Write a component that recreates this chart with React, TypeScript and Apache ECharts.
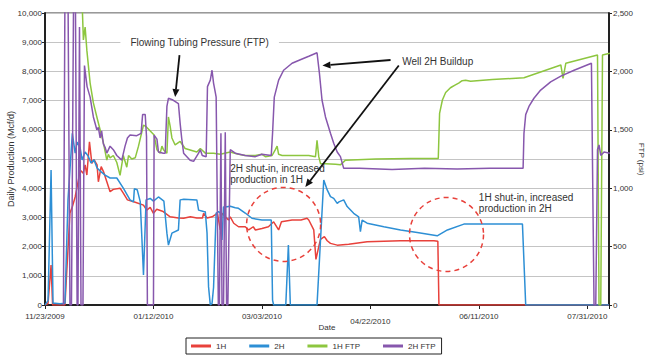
import React, { useEffect, useRef } from 'react';
import * as echarts from 'echarts';

// x values are days since 11/23/2009
const dateLabels = ['11/23/2009', '01/12/2010', '03/03/2010', '04/22/2010', '06/11/2010', '07/31/2010'];
const seriesNames = ['1H', '2H', '1H FTP', '2H FTP'];

// Daily production, Mcf/d
const prod1H: number[][] = [
  [0, 0], [1.4, 50], [2.8, 1370], [3.5, 0], [9.2, 0], [11.5, 3150], [12.6, 3360], [13.9, 3700], [15.4, 4280],
  [16.2, 4620], [17.6, 4510], [18.5, 4800], [19.3, 4450], [20.5, 5590], [21.6, 4850], [22.6, 4980], [24.0, 4800],
  [24.6, 4220], [25.9, 4740], [27.0, 4560], [28.5, 4220], [30.0, 3880], [31.5, 3960], [34.6, 4000], [36.1, 3830],
  [38.0, 3600], [41.6, 3520], [45.4, 3420], [46.9, 3250], [48.5, 3340], [50.0, 3140], [51.5, 3280], [54.5, 3200],
  [57.7, 3020], [61.5, 2980], [63.9, 2970], [67.0, 3020], [70.0, 2980], [72.6, 2980], [73.1, 3140], [74.7, 2980],
  [77.0, 3020], [79.5, 3140], [80.8, 2570], [81.6, 3140], [83.1, 3020], [84.6, 2910], [85.4, 3020], [87.0, 2800],
  [89.2, 2680], [92.3, 2680], [93.9, 2570], [96.0, 2680], [97.0, 2570], [100.0, 2620], [103.0, 2680], [105.4, 2850],
  [107.7, 2570], [109.0, 2850], [113.9, 2910], [118.0, 2910], [120.8, 2970], [121.6, 2910], [123.9, 2570],
  [124.9, 1560], [126.2, 2000], [127.0, 2250], [128.8, 2340], [130.1, 2200], [131.6, 2110], [134.7, 2050],
  [140.0, 2080], [148.5, 2170], [163.9, 2200], [179.3, 2200], [181.1, 2180], [181.6, 0], [260, 0],
];

const prod2H: number[][] = [
  [0, 0], [1.4, 150], [2.8, 4620], [3.7, 60], [4.6, 60], [6.9, 40], [9.2, 60], [10.6, 3600], [12.6, 5880],
  [13.9, 5200], [14.8, 5580], [16.2, 5380], [17.1, 4970], [18.5, 5240], [19.9, 5100], [21.2, 4860], [22.6, 4970],
  [24.0, 4690], [25.9, 4560], [27.7, 4450], [30.0, 4350], [33.1, 4350], [36.1, 4000], [39.2, 3600], [40.8, 3530],
  [41.2, 3980], [42.5, 3950], [43.9, 3540], [44.6, 2400], [45.4, 1030], [46.6, 3600], [48.5, 3650], [50.0, 3560],
  [52.3, 3700], [54.8, 3560], [56.2, 2460], [56.9, 2050], [58.5, 2460], [61.5, 2570], [62.3, 3600], [64.0, 3620],
  [70.0, 3600], [70.8, 3250], [73.1, 3200], [73.9, 3190], [74.7, 2460], [75.4, 620], [76.2, 0], [77.0, 50],
  [77.7, 600], [78.9, 3150], [80.0, 3200], [80.8, 3150], [81.6, 2230], [82.3, 3360], [83.1, 3360], [85.4, 3380],
  [87.7, 3330], [89.2, 3310], [92.3, 3150], [95.4, 2970], [100.0, 2910], [104.3, 2910], [104.9, 170], [105.4, 0],
  [111.0, 0], [112.2, 2050], [113.1, 0], [125.4, 0], [128.5, 4280], [130.1, 3940], [131.6, 3710], [133.1, 3650],
  [134.7, 3480], [135.5, 3530], [137.7, 3600], [139.3, 3370], [142.3, 3140], [144.6, 3020], [145.4, 2510],
  [146.2, 2910], [148.5, 2800], [156.2, 2680], [163.9, 2570], [171.6, 2480], [180.8, 2370], [185.5, 2570],
  [193.1, 2770], [202.4, 2770], [220.1, 2770], [221.6, 0], [260, 0],
];

// Flowing tubing pressure, psi
const ftp1H: number[][] = [
  [15.4, 2700], [16.9, 2700], [17.7, 2270], [18.5, 2380], [19.3, 2180], [20.8, 1900], [22.3, 1730], [23.9, 1610],
  [25.4, 1500], [26.9, 1390], [28.5, 1240], [29.2, 1290], [30.0, 1260], [31.5, 1280], [33.1, 1220], [34.6, 1110],
  [36.1, 1280], [37.7, 1180], [38.5, 1280], [40.0, 1250], [41.6, 1260], [43.1, 1360], [45.4, 1540], [46.4, 1530],
  [50.3, 1455], [51.6, 1330], [53.1, 1300], [53.9, 1360], [54.6, 1330], [56.2, 1300], [56.9, 1610], [57.7, 1530],
  [58.5, 1430], [60.0, 1370], [62.3, 1400], [64.6, 1340], [70.0, 1310], [71.6, 1340], [73.9, 1300], [77.7, 1300],
  [80.8, 1290], [85.4, 1310], [89.2, 1290], [92.3, 1280], [97.0, 1280], [100.0, 1290], [101.6, 1270], [104.7, 1280],
  [106.2, 1330], [107.0, 1360], [107.7, 1290], [109.3, 1280], [113.9, 1280], [121.6, 1280], [124.7, 1270],
  [125.4, 1410], [126.2, 1270], [127.0, 1210], [129.3, 1210], [133.9, 1205], [136.2, 1200], [138.5, 1240],
  [152.4, 1250], [168.5, 1255], [181.3, 1255], [181.9, 1640], [183.2, 1755], [184.7, 1820], [186.9, 1860],
  [189.2, 1885], [190.7, 1900], [192.3, 1920], [193.9, 1925], [196.2, 1915], [206.2, 1930], [220.8, 1945],
  [237.8, 2055], [238.8, 1940], [240.1, 2070], [254.7, 2140], [255.4, 0], [256.2, 0], [257.0, 2140], [260.4, 2155],
];

const ftp2H: number[][] = [
  [8.5, 0], [9.2, 2700], [10.6, 2700], [11.5, 0], [12.2, 0], [13.2, 2700], [14.0, 2700], [14.8, 0], [15.2, 0],
  [15.9, 2380], [16.6, 0], [17.5, 0], [18.2, 2050], [19.4, 1870], [20.8, 1780], [22.3, 1610], [23.9, 1500],
  [24.6, 1520], [25.4, 1430], [26.1, 1490], [26.9, 1380], [27.7, 1350], [28.5, 1300], [30.0, 1360], [31.5, 1330],
  [33.1, 1280], [35.4, 1240], [36.9, 1360], [38.0, 1430], [39.2, 1455], [42.3, 1450], [44.3, 1470], [45.0, 1630],
  [46.2, 1630], [46.8, 1440], [47.2, 0], [50.0, 0], [50.3, 1455], [51.6, 1420], [52.3, 1310], [54.5, 1300],
  [55.4, 1300], [56.2, 1700], [56.9, 1770], [59.0, 1755], [61.5, 1725], [62.3, 1555], [63.0, 1430], [63.9, 1300],
  [66.9, 1240], [68.5, 1230], [70.8, 1300], [71.6, 1330], [72.5, 1280], [74.3, 1270], [74.9, 1870], [76.2, 1925],
  [77.0, 2010], [77.7, 1900], [78.5, 1820], [78.9, 1780], [79.9, 0], [80.4, 0], [81.1, 1470], [81.6, 0], [82.3, 0],
  [83.1, 1480], [83.7, 0], [84.3, 0], [85.4, 1330], [87.7, 1300], [92.3, 1280], [97.0, 1270], [100.0, 1290],
  [104.3, 1280], [104.9, 1470], [105.7, 1780], [107.7, 1925], [110.0, 2010], [113.9, 2070], [117.7, 2100],
  [121.6, 2130], [125.4, 2160], [126.5, 1985], [127.7, 1755], [129.3, 1610], [131.6, 1470], [133.1, 1385],
  [134.7, 1310], [136.2, 1270], [137.7, 1170], [145.0, 1170], [160.0, 1160], [175.0, 1170], [190.0, 1165],
  [205.0, 1170], [220.4, 1170], [220.8, 1470], [221.6, 1630], [223.1, 1700], [225.4, 1770], [228.5, 1840],
  [233.1, 1910], [237.8, 1960], [243.9, 2010], [251.9, 2070], [253.1, 0], [253.9, 0], [254.7, 1330], [255.4, 1370],
  [256.2, 1280], [257.7, 1310], [260.4, 1300],
];

const colors = ['#e8413b', '#2d8fd5', '#8dc63f', '#8757ad'];

// Annotation anchors in (day, Mcf/d) coordinates
const noteFtpText = { text: 'Flowing Tubing Pressure (FTP)', at: [71.3, 9000] };
const noteFtpArrow = [[62, 8560], [60, 7120]];
const noteWellText = { text: 'Well 2H Buildup', at: [164.7, 8330] };
const noteWellArrows = [
  [[159.3, 8390], [127.9, 8200]],
  [[163.1, 8200], [120, 4040]],
];
const noteShut2H = { text: '2H shut-in, increased\nproduction in 1H', at: [85.4, 4470] };
const noteShut1H = { text: '1H shut-in, increased\nproduction in 2H', at: [200, 3500] };
const noteCircles = [[110, 2760], [185.1, 2415]];

const FONT = '"Liberation Sans", Arial, Helvetica, sans-serif';
const fmt = (v: number) => v.toLocaleString('en-US');

export default function App() {
  const ref = useRef<HTMLDivElement>(null);
  useEffect(() => {
    if (!ref.current) return;
    const chart = echarts.init(ref.current, undefined, { renderer: 'svg' });
    const lineSeries = (name: string, data: number[][], idx: number, yAxisIndex: number) => ({
      name,
      type: 'line',
      data,
      yAxisIndex,
      showSymbol: false,
      symbol: 'none',
      clip: true,
      lineStyle: { color: colors[idx], width: 1.5 },
      itemStyle: { color: colors[idx] },
    });
    chart.setOption({
      animation: false,
      grid: {
        left: 45, right: 41, top: 13, bottom: 56,
        containLabel: false, outerBoundsMode: 'none',
        show: true, borderColor: '#333', borderWidth: 1,
      },
      legend: {
        data: seriesNames,
        left: 186,
        top: 338,
        icon: 'rect',
        itemWidth: 20,
        itemHeight: 3,
        itemGap: 23,
        borderColor: '#222',
        borderWidth: 1,
        padding: [4, 6, 4, 5],
        textStyle: { fontSize: 8, color: '#333', fontFamily: FONT },
      },
      xAxis: {
        type: 'value',
        min: 0,
        max: 260,
        interval: 50,
        name: 'Date',
        nameLocation: 'middle',
        nameGap: 18,
        nameMoveOverlap: false,
        nameTextStyle: { fontSize: 8, color: '#333', fontFamily: FONT },
        axisLine: { lineStyle: { color: '#222', width: 2 } },
        axisTick: { length: 4, lineStyle: { color: '#222' } },
        splitLine: { show: false },
        axisLabel: {
          margin: 7,
          fontSize: 8,
          color: '#333',
          fontFamily: FONT,
          formatter: (v: number) => {
            const i = Math.round(v / 50);
            if (v % 50 !== 0 || !dateLabels[i]) return '';
            return i === 3 ? '{low|' + dateLabels[i] + '}' : dateLabels[i];
          },
          rich: { low: { fontSize: 8, color: '#333', fontFamily: FONT, padding: [5, 0, 0, 0] } },
        },
      },
      yAxis: [
        {
          type: 'value',
          min: 0,
          max: 10000,
          interval: 1000,
          name: 'Daily Production (Mcf/d)',
          nameLocation: 'middle',
          nameGap: 30,
          nameMoveOverlap: false,
          nameTextStyle: { fontSize: 9, color: '#333', fontFamily: FONT },
          axisLine: { show: true, lineStyle: { color: '#222', width: 2 } },
          axisTick: { show: true, length: 3, lineStyle: { color: '#222' } },
          axisLabel: { margin: 3, fontSize: 8, color: '#333', fontFamily: FONT, formatter: fmt },
          splitLine: { lineStyle: { color: '#c4c4c4', width: 1 } },
        },
        {
          type: 'value',
          min: 0,
          max: 2500,
          interval: 500,
          position: 'right',
          name: 'FTP (psi)',
          nameLocation: 'middle',
          nameRotate: -90,
          nameGap: 28,
          nameMoveOverlap: false,
          nameTextStyle: { fontSize: 8, color: '#333', fontFamily: FONT },
          axisLine: { show: true, lineStyle: { color: '#222', width: 2 } },
          axisTick: { show: true, length: 3, lineStyle: { color: '#222' } },
          axisLabel: { margin: 4, fontSize: 8, color: '#333', fontFamily: FONT, formatter: fmt },
          splitLine: { show: false },
        },
      ],
      series: [
        lineSeries(seriesNames[0], prod1H, 0, 0),
        lineSeries(seriesNames[1], prod2H, 1, 0),
        lineSeries(seriesNames[2], ftp1H, 2, 1),
        lineSeries(seriesNames[3], ftp2H, 3, 1),
      ],
    });

    const px = (p: number[]) => chart.convertToPixel({ xAxisIndex: 0, yAxisIndex: 0 }, p) as number[];
    const arrow = (from: number[], to: number[]) => {
      const a = px(from);
      const b = px(to);
      const dx = b[0] - a[0];
      const dy = b[1] - a[1];
      const len = Math.sqrt(dx * dx + dy * dy);
      const ux = dx / len;
      const uy = dy / len;
      const hl = 8;
      const hw = 3.5;
      const base = [b[0] - ux * hl, b[1] - uy * hl];
      return [
        { type: 'line', z: 100, shape: { x1: a[0], y1: a[1], x2: base[0], y2: base[1] }, style: { stroke: '#111', lineWidth: 1.8 } },
        {
          type: 'polygon',
          z: 100,
          shape: {
            points: [
              [b[0], b[1]],
              [base[0] - uy * hw, base[1] + ux * hw],
              [base[0] + uy * hw, base[1] - ux * hw],
            ],
          },
          style: { fill: '#111' },
        },
      ];
    };
    const ftpP = px(noteFtpText.at);
    const wellP = px(noteWellText.at);
    const s2P = px(noteShut2H.at);
    const s1P = px(noteShut1H.at);
    const textStyle = { font: '10px ' + FONT, fill: '#333', lineHeight: 11 };
    const graphic: any[] = [
      {
        type: 'text',
        z: 100,
        x: ftpP[0],
        y: ftpP[1],
        style: { ...textStyle, text: noteFtpText.text, align: 'center', verticalAlign: 'middle', backgroundColor: '#fff', padding: [2, 10] },
      },
      ...arrow(noteFtpArrow[0], noteFtpArrow[1]),
      { type: 'text', z: 100, x: wellP[0], y: wellP[1], style: { ...textStyle, text: noteWellText.text, align: 'left', verticalAlign: 'middle' } },
      ...noteWellArrows.flatMap((a) => arrow(a[0], a[1])),
      { type: 'text', z: 100, x: s2P[0], y: s2P[1], style: { ...textStyle, text: noteShut2H.text, align: 'left', verticalAlign: 'middle' } },
      { type: 'text', z: 100, x: s1P[0], y: s1P[1], style: { ...textStyle, text: noteShut1H.text, align: 'left', verticalAlign: 'middle' } },
      ...noteCircles.map((c) => {
        const p = px(c);
        return {
          type: 'circle',
          z: 100,
          shape: { cx: p[0], cy: p[1], r: 37 },
          style: { fill: 'none', stroke: '#e8413b', lineWidth: 1.5, lineDash: [5, 4] },
        };
      }),
    ];
    chart.setOption({ graphic });
    return () => chart.dispose();
  }, []);
  return <div ref={ref} style={{ width: 650, height: 361, position: 'absolute', left: 0, top: 0 }} />;
}
